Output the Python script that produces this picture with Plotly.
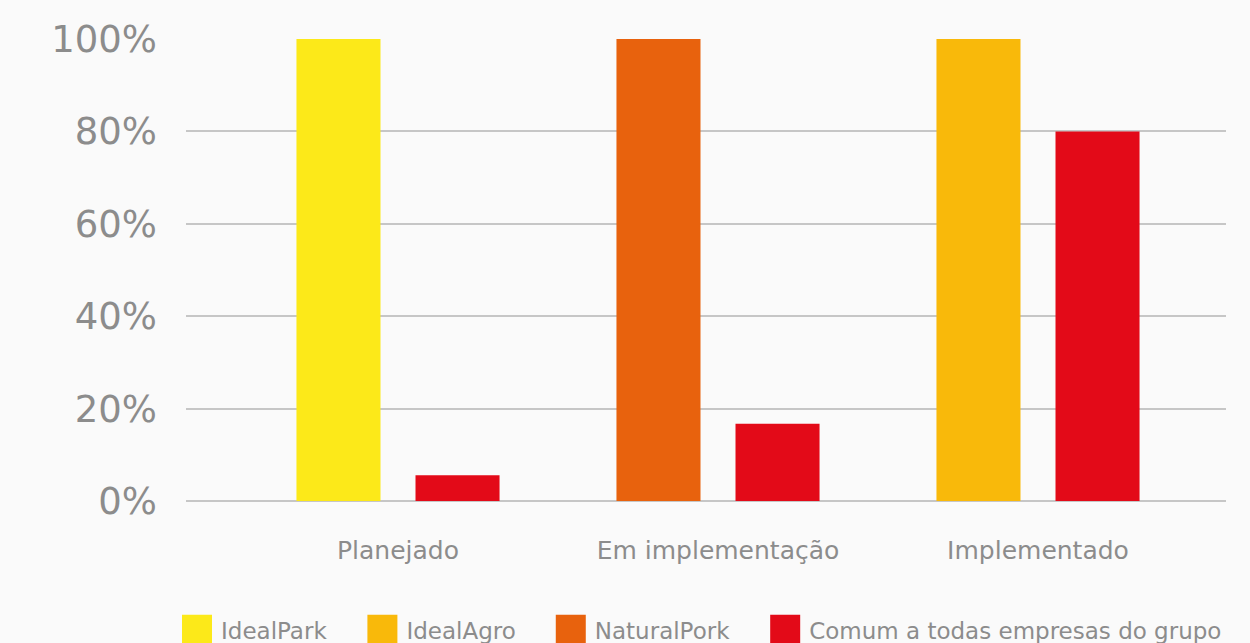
import plotly.graph_objects as go

categories = ["Planejado", "Em implementação", "Implementado"]
ideal_park = [100, None, None]
natural_pork = [None, 100, None]
ideal_agro = [None, None, 100]
comum = [5.6, 16.7, 80]
y_tick_vals = [0, 20, 40, 60, 80, 100]
y_tick_text = ["0%", "20%", "40%", "60%", "80%", "100%"]

series = [
    ("IdealPark", ideal_park, "#FCE919", "empresa"),
    ("IdealAgro", ideal_agro, "#F9B90A", "empresa"),
    ("NaturalPork", natural_pork, "#E8620D", "empresa"),
    ("Comum a todas empresas do grupo", comum, "#E30A18", "comum"),
]

FONT = "DejaVu Sans"
GREY = "#8C8C8C"

fig = go.Figure()
for name, vals, color, grp in series:
    fig.add_trace(go.Bar(
        x=categories, y=vals, name=name, marker_color=color,
        marker_line_width=0, offsetgroup=grp,
    ))

fig.update_layout(
    width=1250, height=643,
    barmode="group", bargap=0.256, bargroupgap=0.294,
    paper_bgcolor="#FAFAFA", plot_bgcolor="#FAFAFA",
    margin=dict(l=186, r=24, t=39, b=142),
    font=dict(family=FONT, color=GREY),
    showlegend=True,
    legend=dict(
        orientation="h", x=-0.0375, xanchor="left",
        y=-0.28, yanchor="bottom",
        itemwidth=64,
        font=dict(size=23, color=GREY, family=FONT), traceorder="normal",
        bgcolor="rgba(0,0,0,0)",
    ),
    xaxis=dict(
        type="category", range=[-0.6625, 2.5875], showgrid=False,
        showline=False, ticks="", ticklabelstandoff=32,
        tickfont=dict(size=25, color=GREY, family=FONT),
    ),
    yaxis=dict(
        range=[0, 100], tickvals=y_tick_vals, ticktext=y_tick_text,
        showgrid=True, gridcolor="#C6C6C6", gridwidth=2,
        zeroline=True, zerolinecolor="#C6C6C6", zerolinewidth=2,
        showline=False, ticks="", ticklabelstandoff=28,
        tickfont=dict(size=37, color=GREY, family=FONT),
    ),
)

post_js = """
document.body.style.margin='0';
document.body.style.background='#FAFAFA';
try {
  var lg = document.querySelector('g.legend');
  var t = lg.getAttribute('transform');
  var m = t.match(/translate\\(([-\\d.e]+)[ ,]+([-\\d.e]+)\\)/);
  lg.setAttribute('transform', 'translate(' + m[1] + ',' + (parseFloat(m[2]) + 21) + ')');
  document.querySelectorAll('g.legend .legendpoints path').forEach(function(p) {
    var orig = p.getAttribute('transform') || '';
    p.setAttribute('transform', orig + ' translate(13,0) scale(2.5)');
  });
} catch (e) {}
"""

fig.write_html(
    "out.html",
    config={"displayModeBar": False},
    post_script=post_js,
)
